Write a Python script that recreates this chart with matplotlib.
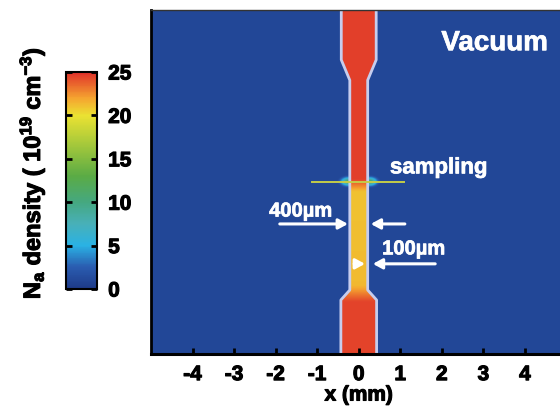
import numpy as np
import matplotlib
matplotlib.use("Agg")
import matplotlib.pyplot as plt
import matplotlib.patheffects as pe
from matplotlib.colors import LinearSegmentedColormap

plt.rcParams['font.family'] = ['Liberation Sans', 'DejaVu Sans']
plt.rcParams['font.weight'] = 'bold'
plt.rcParams['mathtext.fontset'] = 'custom'
plt.rcParams['mathtext.rm'] = 'Liberation Sans:bold'
plt.rcParams['mathtext.it'] = 'Liberation Sans:bold'
plt.rcParams['mathtext.bf'] = 'Liberation Sans:bold'

# ---- data ----
x_ticks = [-4, -3, -2, -1, 0, 1, 2, 3, 4]
cbar_ticks = [0, 5, 10, 15, 20, 25]
# jet profile: axial position (mm) and half-width (mm)
profile_y = [0.0, 1.30, 1.54, 6.59, 7.08, 8.28]
profile_halfwidth = [0.43, 0.43, 0.215, 0.215, 0.42, 0.42]
# on-axis density (1e19 cm^-3) along the jet
density_y = [0.0, 1.25, 1.65, 3.90, 4.02, 4.10, 4.20, 8.28]
density_val = [24.5, 24.5, 21.3, 21.0, 22.6, 23.5, 24.6, 24.6]
background_density = 1.0
sampling_y = 4.14
sampling_x = [-1.13, 1.08]
sampling_glow = 11.0

# ---- colormap ----
cmap = LinearSegmentedColormap.from_list('na', [
    (0.00, '#1e3a88'), (0.10, '#2a5cb0'), (0.20, '#2ab2e4'),
    (0.30, '#48b0b8'), (0.40, '#45a880'), (0.52, '#5aab45'),
    (0.65, '#9cc53c'), (0.80, '#ebe232'), (0.88, '#f5a530'),
    (1.00, '#e0302a')])

# ---- field ----
nx, ny = 600, 500
xg = np.linspace(-5, 5, nx)
yg = np.linspace(0, 8.28, ny)
X, Y = np.meshgrid(xg, yg)
hw = np.interp(yg, profile_y, profile_halfwidth)[:, None]
dens = np.interp(yg, density_y, density_val)[:, None] * np.ones_like(X)
inside = np.abs(X) <= hw
field = np.where(inside, dens, background_density)
glow = sampling_glow * np.exp(-((np.abs(X) - 0.26) / 0.17) ** 2 - ((Y - sampling_y) / 0.10) ** 2)
field = np.where(inside, field, np.maximum(field, glow))

fig = plt.figure(figsize=(5.6, 4.11), dpi=100)
ax = fig.add_axes([0.2696, 0.1387, 0.742, 0.837])
im = ax.imshow(field, origin='lower', extent=[-5, 5, 0, 8.28], cmap=cmap,
               vmin=0, vmax=25, aspect='auto', interpolation='bilinear')

yy = np.array(profile_y)
hh = np.array(profile_halfwidth)
for s in (-1, 1):
    ax.plot(s * hh, yy, color='#c6cdee', lw=2.0, solid_capstyle='butt')

ax.plot(sampling_x, [sampling_y, sampling_y], color='#c4cc48', lw=1.4)

ax.set_xlim(-5, 5)
ax.set_ylim(0, 8.28)
ax.set_yticks([])
ax.set_xticks(x_ticks)
ax.set_xticklabels([str(t) for t in x_ticks])
ax.tick_params(axis='x', direction='in', length=4, width=2, pad=8, labelsize=15)

def thick(color, w=0.8):
    return [pe.withStroke(linewidth=w, foreground=color)]

for lab in ax.get_xticklabels():
    lab.set_fontweight('bold')
    lab.set_path_effects(thick('black'))
ax.set_xlabel('x (mm)', fontsize=15, fontweight='bold', labelpad=1,
              path_effects=thick('black'))
for side, lw in (('left', 2.0), ('bottom', 2.2), ('top', 1.0), ('right', 1.0)):
    ax.spines[side].set_linewidth(lw)
ax.spines['top'].set_color('#333333')

txt = dict(color='white', fontweight='bold', ha='center', va='center',
           path_effects=thick('white', 0.5))
ax.text(3.27, 7.48, 'Vacuum', fontsize=20, **txt)
ax.text(1.92, 4.48, 'sampling', fontsize=16, **txt)
ax.text(-1.40, 3.44, '400µm', fontsize=14.5, **txt)
ax.text(1.32, 2.53, '100µm', fontsize=14.5, **txt)

arr = dict(arrowstyle='-|>,head_length=0.55,head_width=0.3', color='white', lw=2.2,
           shrinkA=0, shrinkB=0)
ax.annotate('', xy=(-0.26, 3.13), xytext=(-1.90, 3.13), arrowprops=arr)
ax.annotate('', xy=(0.29, 3.13), xytext=(1.11, 3.13), arrowprops=arr)
ax.annotate('', xy=(0.15, 2.17), xytext=(-0.11, 2.17), arrowprops=arr)
ax.annotate('', xy=(0.34, 2.17), xytext=(1.84, 2.17), arrowprops=arr)

# ---- colorbar ----
cax = fig.add_axes([0.1179, 0.2968, 0.0554, 0.528])
cb = fig.colorbar(im, cax=cax, ticks=cbar_ticks)
cb.outline.set_linewidth(1.5)
cax.tick_params(axis='y', direction='in', length=4, width=2, left=True, right=True,
                labelsize=15, pad=8)
cax.set_yticklabels([str(t) for t in cbar_ticks], fontweight='bold')
for lab in cax.get_yticklabels():
    lab.set_path_effects(thick('black'))

fig.text(0.057, 0.579, r'N$_{\rm a}$ density ( 10$^{19}$ cm$^{-3}$)', rotation=90,
         ha='center', va='center', fontsize=17, fontweight='bold',
         path_effects=thick('black'))

fig.savefig('out.png', dpi=100)
